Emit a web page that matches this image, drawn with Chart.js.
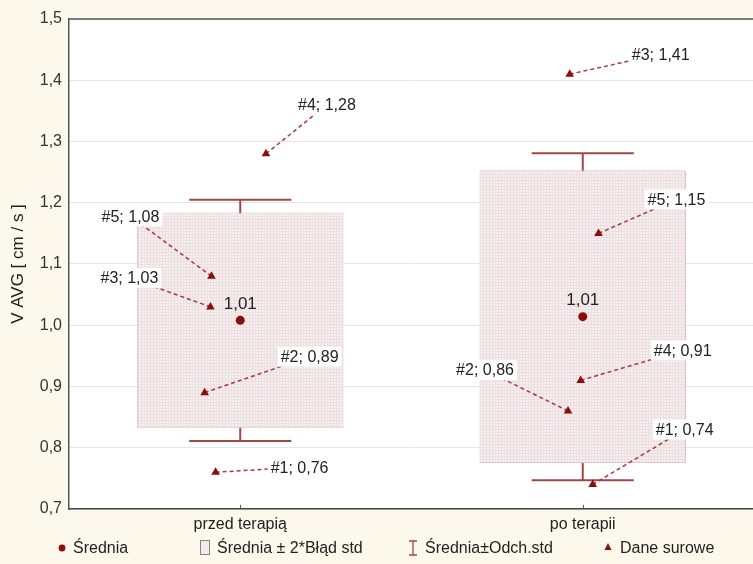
<!DOCTYPE html>
<html>
<head>
<meta charset="utf-8">
<script src="https://cdn.jsdelivr.net/npm/chart.js@4/dist/chart.umd.min.js"></script>
<style>
  html, body { margin: 0; padding: 0; width: 753px; height: 564px; overflow: hidden; background: #fdf8ec; }
  canvas { display: block; }
</style>
</head>
<body>
<canvas id="chart" width="759" height="564"></canvas>
<script>
// Groups on the x axis
const categories = ['przed terapią', 'po terapii'];
// Case numbers of the raw observations
const caseIds = [1, 2, 3, 4, 5];
// Raw V AVG values [cm/s] per case
const rawPrzed = [0.76, 0.89, 1.03, 1.28, 1.08];
const rawPo = [0.74, 0.86, 1.41, 0.91, 1.15];
// Group summaries
const means = [1.008, 1.014];
const twoStdErr = [0.176, 0.239];
const stdDev = [0.197, 0.267];
// Value axis ticks
const yTicks = [0.7, 0.8, 0.9, 1.0, 1.1, 1.2, 1.3, 1.4, 1.5];

// Horizontal spread of the raw points around each group (axis units)
const jitter = [
  [-0.072, -0.104, -0.087, 0.075, -0.084],
  [0.029, -0.043, -0.038, -0.006, 0.046]
];
// Where each case label sits relative to its point (px)
const labelOffsets = [
  [[84, -5], [105, -36], [-81, -29], [61, -49], [-81, -60]],
  [[92, -55], [-83, -41], [91, -20], [102, -30], [78, -34]]
];

const rawGroups = [rawPrzed, rawPo];
const fmt = (v, d) => v.toFixed(d).replace('.', ',');

const DARK_RED = '#8b0d0d';
const WHISKER = '#a04848';
const LEADER = '#a33b3b';
const FONT = "'Liberation Sans', Arial, sans-serif";

Chart.defaults.font.family = FONT;
Chart.defaults.font.size = 16;
Chart.defaults.color = '#222';

// Fine cross-hatch used for the mean ± 2*SE boxes
function makeBoxPattern() {
  const c = document.createElement('canvas');
  c.width = 3; c.height = 3;
  const g = c.getContext('2d');
  g.fillStyle = '#f7efef';
  g.fillRect(0, 0, 3, 3);
  g.fillStyle = '#ecdfdf';
  g.fillRect(0, 0, 3, 1);
  g.fillRect(0, 0, 1, 3);
  return g.createPattern(c, 'repeat');
}

const boxData = categories.map((c, i) => ({ x: i + 1, y: [means[i] - twoStdErr[i], means[i] + twoStdErr[i]] }));
const meanData = categories.map((c, i) => ({ x: i + 1, y: means[i] }));
const rawData = [];
rawGroups.forEach((vals, g) => vals.forEach((v, k) => rawData.push({ x: g + 1 + jitter[g][k], y: v, g, k })));

const decor = {
  id: 'decor',
  beforeDraw(chart) {
    const { ctx, chartArea: a } = chart;
    ctx.save();
    ctx.fillStyle = '#fdf8ec';
    ctx.fillRect(0, 0, chart.width, chart.height);
    ctx.fillStyle = '#ffffff';
    ctx.fillRect(a.left, a.top, a.right - a.left, a.bottom - a.top);
    ctx.restore();
  },
  beforeDatasetDraw(chart, args) {
    if (args.index !== 0) return;
    // Mean ± SD whiskers, drawn beneath the boxes
    const { ctx, scales: { x, y } } = chart;
    ctx.save();
    ctx.strokeStyle = WHISKER;
    ctx.lineWidth = 2;
    categories.forEach((c, i) => {
      const cx = x.getPixelForValue(i + 1);
      const hw = x.getPixelForValue(i + 1 + 0.149) - cx;
      const yHi = y.getPixelForValue(means[i] + stdDev[i]);
      const yLo = y.getPixelForValue(means[i] - stdDev[i]);
      ctx.beginPath();
      ctx.moveTo(cx, yHi); ctx.lineTo(cx, yLo);
      ctx.moveTo(cx - hw, yHi); ctx.lineTo(cx + hw, yHi);
      ctx.moveTo(cx - hw, yLo); ctx.lineTo(cx + hw, yLo);
      ctx.stroke();
    });
    ctx.restore();
  },
  afterDatasetDraw(chart, args) {
    if (args.index !== 0) return;
    // Dashed leaders from each raw point toward its label
    const { ctx } = chart;
    const pts = chart.getDatasetMeta(2).data;
    ctx.save();
    ctx.strokeStyle = LEADER;
    ctx.lineWidth = 1.5;
    ctx.setLineDash([4, 3]);
    rawData.forEach((d, n) => {
      const p = pts[n];
      const [dx, dy] = labelOffsets[d.g][d.k];
      ctx.beginPath();
      ctx.moveTo(p.x, p.y);
      ctx.lineTo(p.x + dx, p.y + dy);
      ctx.stroke();
    });
    ctx.restore();
  },
  afterDatasetsDraw(chart) {
    const { ctx, chartArea: a, scales: { x } } = chart;
    const pts = chart.getDatasetMeta(2).data;
    ctx.save();
    ctx.font = '16px ' + FONT;
    ctx.textAlign = 'center';
    ctx.textBaseline = 'middle';
    // Case labels on white plates
    rawData.forEach((d, n) => {
      const p = pts[n];
      const [dx, dy] = labelOffsets[d.g][d.k];
      const txt = '#' + caseIds[d.k] + '; ' + fmt(d.y, 2);
      const w = ctx.measureText(txt).width;
      ctx.fillStyle = '#ffffff';
      ctx.fillRect(p.x + dx - w / 2 - 3, p.y + dy - 10, w + 6, 20);
      ctx.fillStyle = '#222';
      ctx.fillText(txt, p.x + dx, p.y + dy + 1);
    });
    // Mean value labels
    const mpts = chart.getDatasetMeta(1).data;
    ctx.font = '17px ' + FONT;
    mpts.forEach((p, i) => {
      ctx.fillStyle = '#222';
      ctx.fillText(fmt(means[i], 2), p.x, p.y - 16);
    });
    // Frame top line and category tick marks
    ctx.strokeStyle = '#555';
    ctx.lineWidth = 1.5;
    ctx.beginPath();
    ctx.moveTo(a.left, a.top); ctx.lineTo(a.right, a.top);
    ctx.stroke();
    ctx.lineWidth = 1;
    categories.forEach((c, i) => {
      const cx = Math.round(x.getPixelForValue(i + 1)) + 0.5;
      ctx.beginPath();
      ctx.moveTo(cx, a.bottom); ctx.lineTo(cx, a.bottom - 4);
      ctx.stroke();
    });
    ctx.restore();
  },
  afterDraw(chart) {
    // Legend row
    const { ctx } = chart;
    const ly = 549;
    ctx.save();
    ctx.font = '16px ' + FONT;
    ctx.textBaseline = 'middle';
    ctx.textAlign = 'left';
    // Średnia
    ctx.fillStyle = DARK_RED;
    ctx.beginPath(); ctx.arc(62, ly - 1, 3.4, 0, Math.PI * 2); ctx.fill();
    ctx.fillStyle = '#222';
    ctx.fillText('Średnia', 73, ly);
    // Średnia ± 2*Błąd std
    ctx.fillStyle = '#f4eaee';
    ctx.strokeStyle = '#8c7f86';
    ctx.lineWidth = 1;
    ctx.fillRect(200.5, ly - 8.5, 9, 14);
    ctx.strokeRect(200.5, ly - 8.5, 9, 14);
    ctx.fillStyle = '#222';
    ctx.fillText('Średnia ± 2*Błąd std', 217, ly);
    // Średnia±Odch.std
    ctx.strokeStyle = WHISKER;
    ctx.lineWidth = 1.3;
    ctx.beginPath();
    ctx.moveTo(413, ly - 8); ctx.lineTo(413, ly + 6);
    ctx.moveTo(409, ly - 8); ctx.lineTo(417, ly - 8);
    ctx.moveTo(409, ly + 6); ctx.lineTo(417, ly + 6);
    ctx.stroke();
    ctx.fillStyle = '#222';
    ctx.fillText('Średnia±Odch.std', 425, ly);
    // Dane surowe
    ctx.fillStyle = DARK_RED;
    ctx.beginPath();
    ctx.moveTo(608, ly - 6); ctx.lineTo(611.5, ly + 1); ctx.lineTo(604.5, ly + 1); ctx.closePath();
    ctx.fill();
    ctx.fillStyle = '#222';
    ctx.fillText('Dane surowe', 620, ly);
    ctx.restore();
  }
};

new Chart(document.getElementById('chart'), {
  type: 'bar',
  data: {
    datasets: [
      {
        label: 'Średnia ± 2*Błąd std',
        data: boxData,
        backgroundColor: makeBoxPattern(),
        borderColor: '#dcc8c8',
        borderWidth: 1,
        borderSkipped: false,
        categoryPercentage: 1,
        barPercentage: 0.603,
        order: 3
      },
      {
        type: 'scatter',
        label: 'Średnia',
        data: meanData,
        pointStyle: 'circle',
        pointRadius: 4.5,
        backgroundColor: DARK_RED,
        borderColor: DARK_RED,
        borderWidth: 0,
        order: 1
      },
      {
        type: 'scatter',
        label: 'Dane surowe',
        data: rawData,
        pointStyle: 'triangle',
        pointRadius: 5,
        backgroundColor: DARK_RED,
        borderColor: DARK_RED,
        borderWidth: 0,
        order: 2
      }
    ]
  },
  options: {
    responsive: false,
    devicePixelRatio: 1,
    animation: false,
    layout: { padding: { top: 19, right: 0, bottom: 0, left: 0 } },
    plugins: { legend: { display: false }, tooltip: { enabled: false } },
    scales: {
      x: {
        type: 'linear',
        min: 0.5,
        max: 2.5,
        offset: false,
        grid: { display: false, offset: false },
        border: { display: true, color: '#444', width: 1.5 },
        afterBuildTicks: (s) => { s.ticks = categories.map((c, i) => ({ value: i + 1 })); },
        afterFit: (s) => { s.height = 55; },
        ticks: {
          autoSkip: false,
          maxRotation: 0,
          padding: -2,
          color: '#222',
          font: { size: 16 },
          callback: (v) => categories[v - 1]
        }
      },
      y: {
        type: 'linear',
        min: 0.7,
        max: 1.5,
        grid: { color: '#e6e6e6', lineWidth: 1, drawTicks: false, tickLength: 0 },
        border: { display: true, color: '#555', width: 1.5 },
        afterBuildTicks: (s) => { s.ticks = yTicks.map(v => ({ value: v })); },
        afterFit: (s) => { s.width = 69; },
        ticks: {
          padding: 7,
          color: '#333',
          font: { size: 16 },
          callback: (v) => fmt(v, 1)
        },
        title: {
          display: true,
          text: 'V AVG [ cm / s ]',
          color: '#222',
          font: { size: 17 },
          padding: { top: 8, bottom: 0 }
        }
      }
    }
  },
  plugins: [decor]
});
</script>
</body>
</html>
